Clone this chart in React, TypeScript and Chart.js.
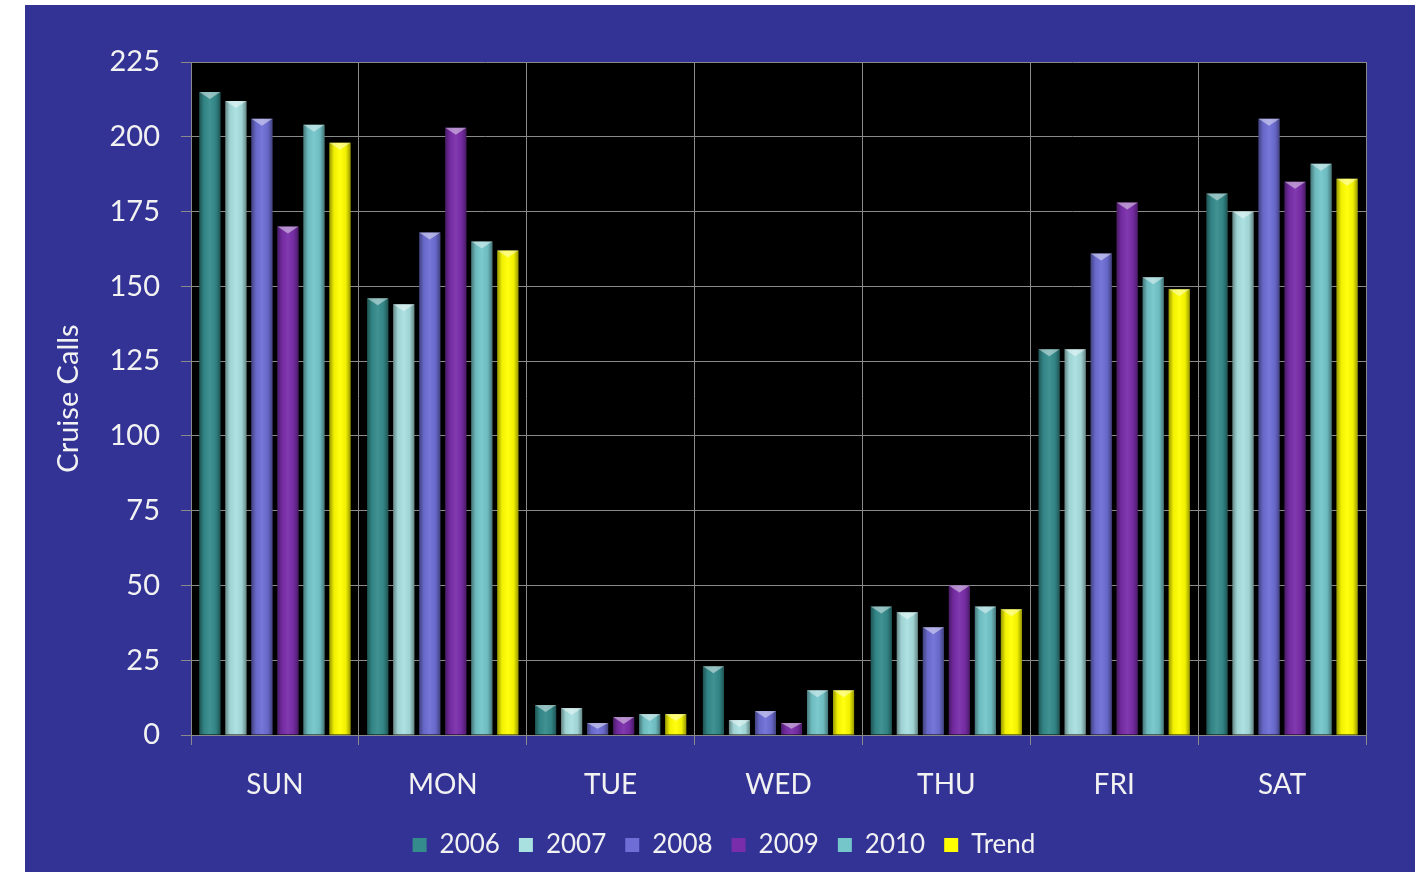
import React, { useEffect, useRef } from 'react';
import { Chart, registerables } from 'chart.js';
Chart.register(...registerables);

const days = ['SUN', 'MON', 'TUE', 'WED', 'THU', 'FRI', 'SAT'];
const s2006 = [215, 146, 10, 23, 43, 129, 181];
const s2007 = [212, 144, 9, 5, 41, 129, 175];
const s2008 = [206, 168, 4, 8, 36, 161, 206];
const s2009 = [170, 203, 6, 4, 50, 178, 185];
const s2010 = [204, 165, 7, 15, 43, 153, 191];
const trend = [198, 162, 7, 15, 42, 149, 186];
const seriesNames = ['2006', '2007', '2008', '2009', '2010', 'Trend'];
const seriesValues = [s2006, s2007, s2008, s2009, s2010, trend];
const seriesColors = ['#358c8c', '#a9e0e0', '#6e6ed6', '#7a2daa', '#74c6ca', '#ffff00'];
const yMin = 0;
const yMax = 225;
const yStep = 25;

const FONT = 'Lato, "Open Sans", sans-serif';
const TEXT = '#f2f2f2';
const GRID = '#8a8a8a';

const plotBg = {
  id: 'plotBg',
  beforeDraw(chart: any) {
    const { ctx, chartArea } = chart;
    ctx.save();
    ctx.fillStyle = '#000000';
    ctx.fillRect(chartArea.left, chartArea.top, chartArea.right - chartArea.left, chartArea.bottom - chartArea.top);
    ctx.restore();
  },
};

const bevel = {
  id: 'bevel',
  afterDatasetsDraw(chart: any) {
    const { ctx } = chart;
    ctx.save();
    chart.data.datasets.forEach((_: any, i: number) => {
      const meta = chart.getDatasetMeta(i);
      if (meta.hidden) return;
      meta.data.forEach((el: any) => {
        const p = el.getProps(['x', 'y', 'base', 'width'], true);
        const left = p.x - p.width / 2;
        const right = p.x + p.width / 2;
        const top = Math.min(p.y, p.base);
        const bottom = Math.max(p.y, p.base);
        const h = bottom - top;
        if (h <= 0) return;
        const g = ctx.createLinearGradient(left, 0, right, 0);
        g.addColorStop(0, 'rgba(0,0,0,0.40)');
        g.addColorStop(0.22, 'rgba(0,0,0,0.06)');
        g.addColorStop(0.5, 'rgba(255,255,255,0.06)');
        g.addColorStop(0.78, 'rgba(0,0,0,0.06)');
        g.addColorStop(1, 'rgba(0,0,0,0.40)');
        ctx.fillStyle = g;
        ctx.fillRect(left, top, right - left, h);
        const bh = Math.min(7, h / 2);
        ctx.beginPath();
        ctx.moveTo(left, top);
        ctx.lineTo(right, top);
        ctx.lineTo(p.x, top + bh);
        ctx.closePath();
        ctx.fillStyle = 'rgba(255,255,255,0.45)';
        ctx.fill();
      });
    });
    ctx.restore();
  },
};

export default function App() {
  const ref = useRef<HTMLCanvasElement>(null);
  useEffect(() => {
    if (!ref.current) return;
    const chart = new Chart(ref.current, {
      type: 'bar',
      data: {
        labels: days,
        datasets: seriesNames.map((name, i) => ({
          label: name,
          data: seriesValues[i],
          backgroundColor: seriesColors[i],
          borderWidth: 0,
          categoryPercentage: 0.93,
          barPercentage: 0.81,
        })),
      },
      options: {
        responsive: false,
        animation: false,
        devicePixelRatio: 1,
        layout: { padding: { top: 57, right: 49, left: 57, bottom: 37 } },
        plugins: {
          tooltip: { enabled: false },
          legend: {
            position: 'bottom',
            labels: {
              color: TEXT,
              font: { family: FONT, size: 26 },
              boxWidth: 14,
              boxHeight: 14,
              padding: 19,
            },
          },
        },
        scales: {
          x: {
            grid: { color: GRID, offset: true, tickLength: 10, drawTicks: true },
            border: { color: GRID },
            ticks: { color: TEXT, font: { family: FONT, size: 28 }, padding: 23 },
            afterFit: (s: any) => { s.height = 78; },
          },
          y: {
            min: yMin,
            max: yMax,
            ticks: { stepSize: yStep, color: TEXT, font: { family: FONT, size: 29 }, padding: 21 },
            grid: { color: GRID, tickLength: 10, drawTicks: true },
            border: { color: GRID },
            title: {
              display: true,
              text: 'Cruise Calls',
              color: TEXT,
              font: { family: FONT, size: 29 },
              padding: { top: -31, bottom: 0 },
            },
            afterFit: (s: any) => { s.width = 109; },
          },
        },
      },
      plugins: [plotBg, bevel],
    } as any);
    return () => chart.destroy();
  }, []);
  return (
    <div style={{ position: 'fixed', left: 0, top: 0, width: 1418, height: 872, background: '#ffffff', overflow: 'hidden' }}>
      <div style={{ position: 'absolute', left: 25, top: 5, width: 1390, height: 867, background: '#333396', overflow: 'hidden' }}>
        <canvas ref={ref} width={1390} height={900} style={{ display: 'block' }} />
      </div>
    </div>
  );
}
